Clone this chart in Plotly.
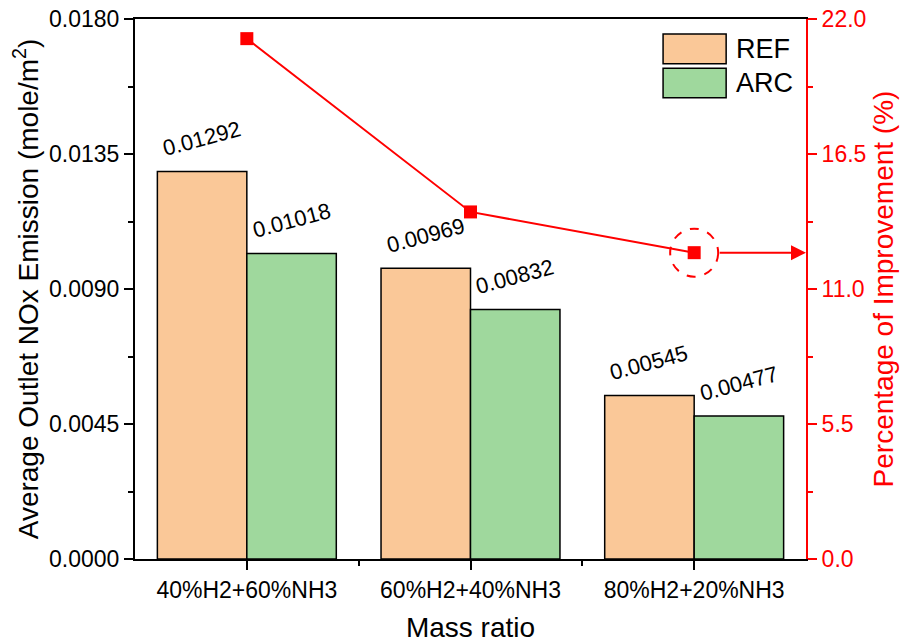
import plotly.graph_objects as go

categories = ["40%H2+60%NH3", "60%H2+40%NH3", "80%H2+20%NH3"]
ref_values = [0.01292, 0.00969, 0.00545]
arc_values = [0.01018, 0.00832, 0.00477]
improvement = [21.2, 14.14, 12.48]

REF_COLOR = "#FAC898"
ARC_COLOR = "#9FD89D"
RED = "#FF0000"
FONT = "Liberation Sans, Arial, sans-serif"

xpos = list(range(len(categories)))
bar_w = 0.4

fig = go.Figure()
fig.add_trace(go.Bar(x=[p - bar_w / 2 for p in xpos], y=ref_values, width=bar_w, name="REF",
                     marker=dict(color=REF_COLOR, line=dict(color="black", width=1.5)),
                     showlegend=False))
fig.add_trace(go.Bar(x=[p + bar_w / 2 for p in xpos], y=arc_values, width=bar_w, name="ARC",
                     marker=dict(color=ARC_COLOR, line=dict(color="black", width=1.5)),
                     showlegend=False))
fig.add_trace(go.Scatter(x=xpos, y=improvement, yaxis="y2", mode="lines+markers",
                         line=dict(color=RED, width=2),
                         marker=dict(symbol="square", size=13, color=RED),
                         showlegend=False, cliponaxis=False))

# value labels above each bar
for p, v in zip(xpos, ref_values):
    fig.add_annotation(x=p - bar_w / 2, y=v, text=f"{v:.5f}", showarrow=False,
                       textangle=-15, yanchor="bottom", yshift=8,
                       font=dict(family=FONT, size=22, color="black"))
for p, v in zip(xpos, arc_values):
    fig.add_annotation(x=p + bar_w / 2, y=v, text=f"{v:.5f}", showarrow=False,
                       textangle=-15, yanchor="bottom", yshift=8,
                       font=dict(family=FONT, size=22, color="black"))

# highlight of the last improvement point, with an arrow to the right axis
fig.add_shape(type="circle", xref="x", yref="y2", xsizemode="pixel", ysizemode="pixel",
              xanchor=xpos[-1], yanchor=improvement[-1], x0=-24, x1=24, y0=-24, y1=24,
              line=dict(color=RED, width=2, dash="dash"))
fig.add_annotation(x=xpos[-1] + 0.5, y=improvement[-1], xref="x", yref="y2",
                   ax=xpos[-1], ay=improvement[-1], axref="x", ayref="y2",
                   showarrow=True, arrowhead=2, arrowsize=1.5, arrowwidth=2,
                   arrowcolor=RED, startstandoff=24, text="")

# legend drawn as large swatches
legend_items = [("REF", REF_COLOR, 0.972, 0.917), ("ARC", ARC_COLOR, 0.909, 0.854)]
for label, color, top, bottom in legend_items:
    fig.add_shape(type="rect", xref="paper", yref="paper", x0=0.787, x1=0.881,
                  y0=bottom, y1=top, fillcolor=color, line=dict(color="black", width=1.5))
    fig.add_annotation(xref="paper", yref="paper", x=0.893, y=(top + bottom) / 2,
                       text=label, showarrow=False, xanchor="left", yanchor="middle",
                       font=dict(family=FONT, size=27, color="black"))

fig.update_layout(
    template="none",
    width=901, height=644,
    margin=dict(l=135, r=95, t=19, b=85),
    plot_bgcolor="white", paper_bgcolor="white",
    font=dict(family=FONT, color="black"),
    xaxis=dict(range=[-0.5, 2.5], tickvals=xpos, ticktext=categories, automargin=False,
               showline=True, linecolor="black", linewidth=2, mirror=True,
               ticks="outside", ticklen=9, tickwidth=2, tickcolor="black",
               minor=dict(tickvals=[0.5, 1.5], ticks="outside", ticklen=5,
                          tickwidth=2, tickcolor="black"),
               tickfont=dict(size=23), showgrid=False, zeroline=False,
               title=dict(text="Mass ratio", font=dict(size=28), standoff=16)),
    xaxis2=dict(overlaying="x", side="top", range=[-0.5, 2.5], tickvals=xpos,
                showticklabels=False, ticks="inside", ticklen=9, tickwidth=2,
                tickcolor="black", showgrid=False, zeroline=False, showline=False),
    yaxis=dict(range=[0, 0.018], dtick=0.0045, tickformat=".4f", automargin=False,
               showline=True, linecolor="black", linewidth=2,
               ticks="outside", ticklen=9, tickwidth=2, tickcolor="black",
               minor=dict(dtick=0.00225, ticks="outside", ticklen=5, tickwidth=2,
                          tickcolor="black"),
               tickfont=dict(size=23), showgrid=False, zeroline=False,
               title=dict(text="Average Outlet NOx Emission (mole/m<sup>2</sup>)",
                          font=dict(size=28), standoff=2)),
    yaxis2=dict(overlaying="y", side="right", range=[0, 22], dtick=5.5, tickformat=".1f",
                automargin=False,
                showline=True, linecolor=RED, linewidth=2,
                ticks="outside", ticklen=9, tickwidth=2, tickcolor=RED,
                minor=dict(dtick=2.75, ticks="outside", ticklen=5, tickwidth=2,
                           tickcolor=RED),
                tickfont=dict(size=23, color=RED), showgrid=False, zeroline=False,
                title=dict(text="Percentage of Improvement (%)",
                           font=dict(size=28, color=RED), standoff=8)),
)

fig.write_html("out.html")
